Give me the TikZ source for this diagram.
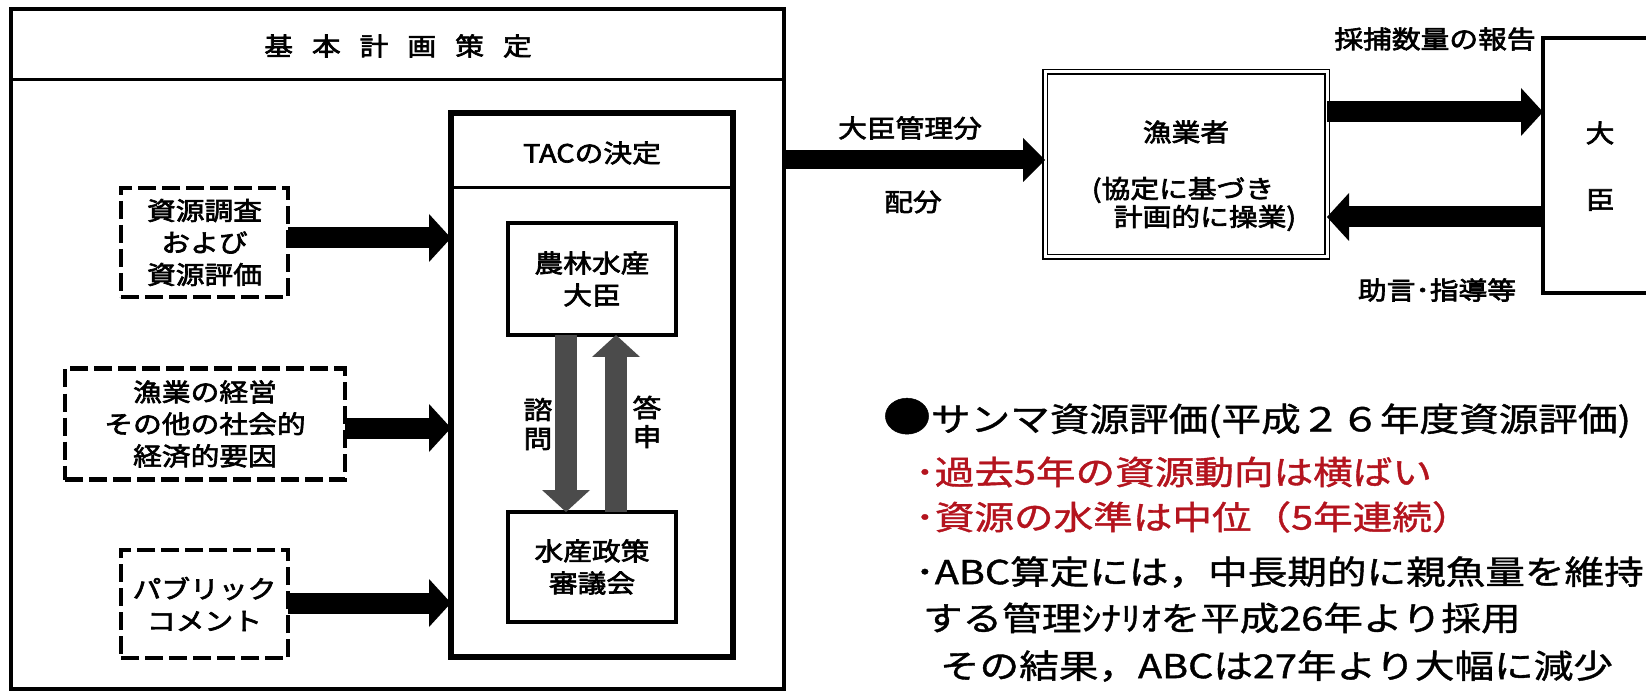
\documentclass[tikz,border=0pt]{standalone}
\usepackage{fontspec}
\usetikzlibrary{arrows.meta}
\newfontfamily\jpd[FakeStretch=1.15,FakeBold=2.6]{Noto Sans CJK JP}
\newfontfamily\jpr[FakeStretch=1.2,FakeBold=1.2]{Noto Sans CJK JP}
\definecolor{redtxt}{RGB}{180,20,30}
\definecolor{arrgray}{RGB}{75,75,75}
\begin{document}
\begin{tikzpicture}[x=1pt,y=-1pt,
  every node/.style={inner sep=0pt,outer sep=0pt},
  dtext/.style={font=\jpd\fontsize{25}{32}\selectfont,align=center},
  vtext/.style={font=\jpd\fontsize{25}{29}\selectfont,align=center},
  rtext/.style={font=\jpr\fontsize{33}{40}\selectfont,anchor=west},
  solidbox/.style={draw,line width=4pt,dtext},
  dashbox/.style={draw,line width=4.5pt,dash pattern=on 18pt off 6pt,dtext},
  fat/.style={line width=21pt,-{Triangle[length=22pt,width=48pt,line width=0pt]}},
  fatgray/.style={draw=arrgray,line width=22pt,-{Triangle[length=22pt,width=48pt,line width=0pt]}},
  rule/.style={line width=3pt}
]
\useasboundingbox (0,0) rectangle (1646,692);
\fill[white] (0,0) rectangle (1646,692);

% outer planning box
\node[draw,line width=4.5pt,minimum width=773pt,minimum height=680pt] (plan) at (397.5,349) {};
\draw[rule] (plan.west |- 0,80) -- (plan.east |- 0,80);
\node[dtext] (title) at (398,46) {基\hspace{19pt}本\hspace{19pt}計\hspace{19pt}画\hspace{19pt}策\hspace{19pt}定};

% TAC box
\node[draw,line width=6pt,minimum width=282pt,minimum height=544pt] (tac) at (592,385) {};
\draw[rule] (tac.west |- 0,188) -- (tac.east |- 0,188);
\node[dtext] (tachead) at (592,153) {TACの決定};

\node[solidbox,minimum width=168pt,minimum height=112pt] (minister) at (592,279) {農林水産\\大臣};
\node[solidbox,minimum width=168pt,minimum height=110pt] (council) at (592,567) {水産政策\\審議会};

\coordinate (xd) at (566,0);
\coordinate (xu) at (616,0);
\draw[fatgray] (minister.south -| xd) -- (council.north -| xd);
\draw[fatgray] (council.north -| xu) -- (minister.south -| xu);
\node[vtext] (shimon) at (538,424) {諮\\問};
\node[vtext] (toshin) at (647,422) {答\\申};

% input boxes
\node[dashbox,minimum width=167pt,minimum height=109pt] (res) at (204.5,242.5) {資源調査\\および\\資源評価};
\node[dashbox,minimum width=280pt,minimum height=111pt] (fish) at (205,424) {漁業の経営\\その他の社会的\\経済的要因};
\node[dashbox,minimum width=167pt,minimum height=108pt] (pub) at (204.5,604) {パブリック\\コメント};

\draw[fat] (res.east |- 0,238) -- (tac.west |- 0,238);
\draw[fat] (fish.east |- 0,428) -- (tac.west |- 0,428);
\draw[fat] (pub.east |- 0,603) -- (tac.west |- 0,603);

% fishers
\node[draw,double,line width=1.5pt,double distance=3pt,minimum width=282pt,minimum height=185pt] (fisher) at (1186,164.5) {};
\node[dtext] (fisherlbl) at (1186,132) {漁業者};
\node[dtext] (fisher2) at (1183,190) {(協定に基づき};
\node[dtext] (fisher3) at (1205,218) {計画的に操業)};

\draw[line width=19pt,-{Triangle[length=22pt,width=44pt,line width=0pt]}] (plan.east |- 0,160) -- (fisher.west |- 0,160);
\node[dtext] (kanri) at (910,128) {大臣管理分};
\node[dtext] (haibun) at (913,202) {配分};

% minister (right)
\node[minimum width=160pt,minimum height=255pt] (daijin) at (1623,165.5) {};
\draw[line width=4.5pt] (daijin.north east) -- (daijin.north west) -- (daijin.south west) -- (daijin.south east);
\node[dtext] (dai) at (1600,133) {大};
\node[dtext] (jin) at (1600,200) {臣};

\draw[fat] (fisher.east |- 0,112) -- (daijin.west |- 0,112);
\draw[fat] (daijin.west |- 0,217) -- (fisher.east |- 0,217);
\node[dtext] (report) at (1435,39) {採捕数量の報告};
\node[dtext] (advice) at (1437,290) {助言･指導等};

% assessment text
\node[rtext] (l1) at (883,418) {{\fontsize{40}{40}\selectfont ●}サンマ資源評価(平成２６年度資源評価)};
\node[rtext,text=redtxt] (l2) at (915,472) {･過去5年の資源動向は横ばい};
\node[rtext,text=redtxt] (l3) at (915,517) {･資源の水準は中位（5年連続）};
\node[rtext] (l4) at (915,572) {･ABC算定には，中長期的に親魚量を維持};
\node[rtext] (l5) at (923,618) {する管理ｼﾅﾘｵを平成26年より採用};
\node[rtext] (l6) at (940,666) {その結果，ABCは27年より大幅に減少};
\end{tikzpicture}
\end{document}
